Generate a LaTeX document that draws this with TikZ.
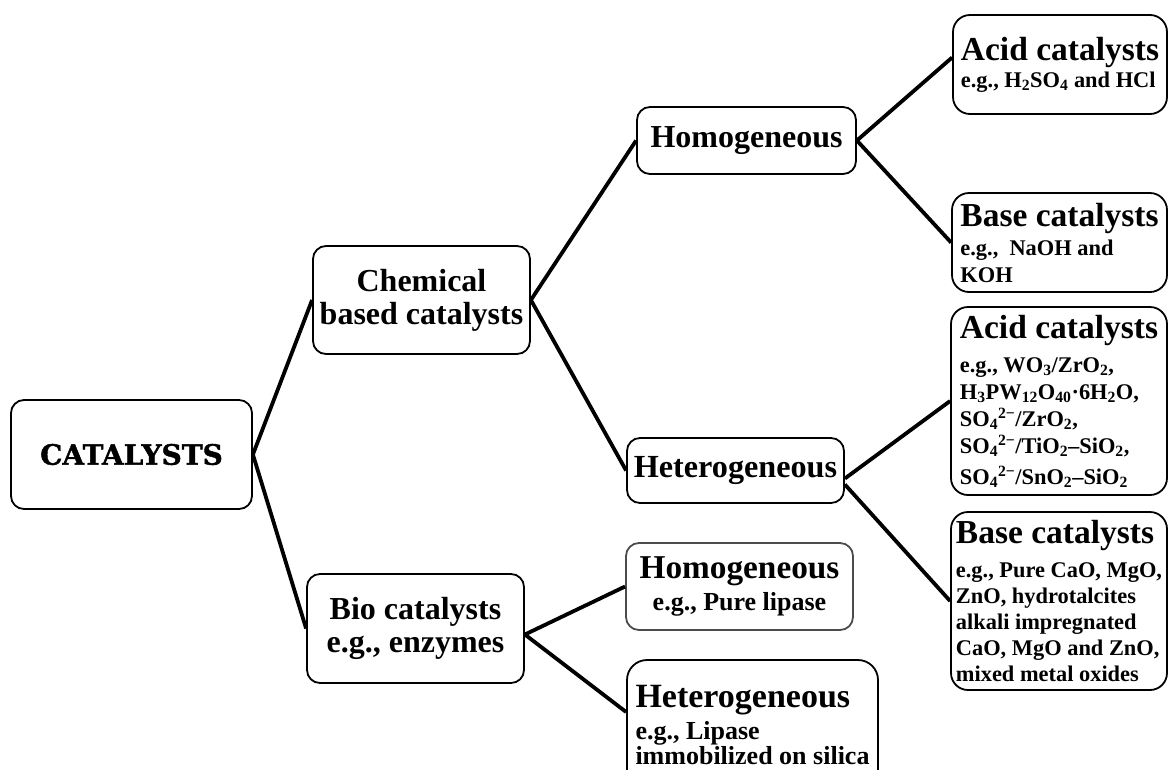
\documentclass[tikz,border=0pt]{standalone}
\usepackage{fontspec}
\usepackage{tikz}
\setmainfont{Liberation Serif}
\newfontfamily\slabfont[BoldFeatures={FakeBold=1.5}]{DejaVu Serif}
\newcommand\hfont{\fontsize{32}{33}\selectfont}
\newcommand\tfont{\fontsize{33.5}{34}\selectfont}
\newcommand\sfont{\fontsize{22.4}{26}\selectfont}
\newcommand\sub[1]{\textsubscript{#1}}
\newcommand\chg[1]{\textsuperscript{#1}}

\begin{document}
\begin{tikzpicture}[x=1pt,y=-1pt]
\definecolor{cbox}{rgb}{0.0,0.0,0.0}
\definecolor{cgbox}{rgb}{0.3,0.3,0.3}
\definecolor{clink}{rgb}{0.0,0.0,0.0}
\tikzset{
  catbox/.style={draw=cbox,line width=1.8pt,rounded corners=13pt,inner sep=0pt,align=center,font=\bfseries\hfont},
  tipbox/.style={catbox,rounded corners=17pt,align=left,font=\bfseries\sfont},
  link/.style={draw=clink,line width=3.8pt}
}
\useasboundingbox (0,0) rectangle (1168,769);
\clip (0,0) rectangle (1168,769);
%
\node[catbox,minimum width=241pt,minimum height=109pt,font=\slabfont\bfseries\fontsize{28}{28}\selectfont] (cat) at (131.5,454.5) {CATALYSTS};
\node[catbox,minimum width=217pt,minimum height=108pt] (chem) at (421.5,300) {Chemical\\based catalysts};
\node[catbox,minimum width=217pt,minimum height=109pt] (bio) at (415.5,628.5) {Bio catalysts\\e.g., enzymes};
\node[catbox,minimum width=219pt,minimum height=67pt] (homo) at (746.5,140.5) {Homogeneous};
\node[catbox,minimum width=217pt,minimum height=65pt,font=\bfseries\fontsize{32.2}{33}\selectfont] (hetero) at (735.5,470.5) {Heterogeneous};
\node[catbox,draw=cgbox,minimum width=227pt,minimum height=87pt] (hbio) at (739.5,586.5) {{\fontsize{33.3}{33}\selectfont Homogeneous}\\[-1pt]{\fontsize{26}{27}\selectfont e.g., Pure lipase}};
\node[tipbox,rounded corners=20pt,minimum width=251pt,minimum height=130pt,font=\bfseries\fontsize{26}{25}\selectfont] (tbio) at (752.5,725) {{\fontsize{34}{34}\selectfont Heterogeneous}\\[5pt]e.g., Lipase\\immobilized on silica};
%
\node[tipbox,minimum width=214pt,minimum height=99pt] (acidA) at (1060,64.5) {{\tfont Acid catalysts}\\[1pt]e.g., H\sub{2}SO\sub{4} and HCl};
\node[tipbox,minimum width=215pt,minimum height=99pt] (baseA) at (1059.5,242.5) {{\tfont Base catalysts}\\[3pt]e.g.,\ \ NaOH and\\[1pt]KOH};
\node[tipbox,minimum width=216pt,minimum height=188pt] (acidB) at (1059,401) {{\tfont Acid catalysts}\\[8pt]e.g., WO\sub{3}/ZrO\sub{2},\\[1pt]H\sub{3}PW\sub{12}O\sub{40}·6H\sub{2}O,\\[1pt]SO\sub{4}\chg{2−}/ZrO\sub{2},\\[1pt]SO\sub{4}\chg{2−}/TiO\sub{2}--SiO\sub{2},\\[5pt]SO\sub{4}\chg{2−}/SnO\sub{2}--SiO\sub{2}};
\node[tipbox,minimum width=216pt,minimum height=178pt] (baseB) at (1059,601) {{\tfont Base catalysts}\\[8pt]e.g., Pure CaO, MgO,\\ZnO, hydrotalcites\\alkali impregnated\\CaO, MgO and ZnO,\\mixed metal oxides};
%
\draw[link] (cat.east) -- (chem.west);
\draw[link] (cat.east) -- (bio.west);
\draw[link] (chem.east) -- (homo.west);
\draw[link] (chem.east) -- (hetero.west);
\draw[link] ([yshift=-6pt]bio.east) -- (hbio.west);
\draw[link] ([yshift=-6pt]bio.east) -- ([yshift=13pt]tbio.west);
\draw[link] (homo.east) -- ([yshift=7pt]acidA.west);
\draw[link] (homo.east) -- (baseA.west);
\draw[link] ([yshift=-8pt]hetero.east) -- (acidB.west);
\draw[link] ([yshift=-14pt]hetero.east) -- (baseB.west);
%
\end{tikzpicture}
\end{document}
